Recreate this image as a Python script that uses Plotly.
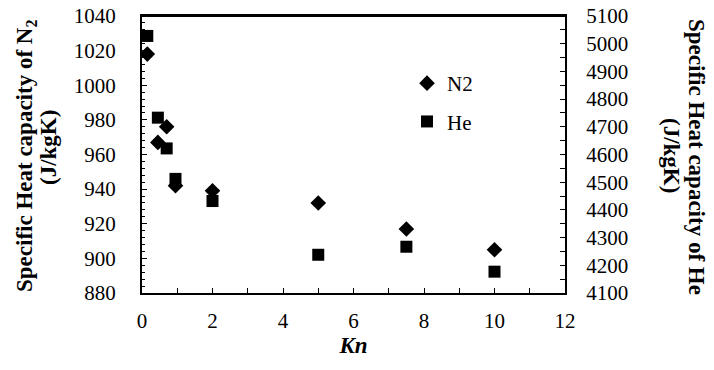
import plotly.graph_objects as go

kn_n2 = [0.15, 0.45, 0.7, 0.95, 2, 5, 7.5, 10]
cp_n2 = [1018, 967, 976, 942, 939, 932, 917, 905]
kn_he = [0.15, 0.45, 0.7, 0.95, 2, 5, 7.5, 10]
cp_he = [5028, 4733, 4622, 4512, 4432, 4238, 4267, 4177]

FONT = "Liberation Serif"
W, H = 714, 370
L, R, T, B = 142, 565, 16, 293   # plot area in reference pixels
PW, PH = R - L, B - T

def px(x):
    return (x - L) / PW

def py(y):
    return (B - y) / PH

fig = go.Figure()
fig.add_trace(go.Scatter(x=kn_n2, y=cp_n2, mode="markers", name="N2",
                         legendgroup="a",
                         marker=dict(symbol="diamond", size=12, color="black")))
fig.add_trace(go.Scatter(x=kn_he, y=cp_he, mode="markers", name="He",
                         legendgroup="b", yaxis="y2",
                         marker=dict(symbol="square", size=12, color="black")))

fig.update_layout(
    width=W, height=H,
    margin=dict(l=L, r=W - R, t=T, b=H - B, pad=0),
    paper_bgcolor="white", plot_bgcolor="white",
    font=dict(family=FONT, color="black", size=21),
    showlegend=True,
    legend=dict(x=px(407), y=py(63), xanchor="left", yanchor="top",
                bgcolor="rgba(0,0,0,0)", font=dict(size=21),
                itemwidth=30, tracegroupgap=8, traceorder="grouped"),
    xaxis=dict(range=[0, 12], dtick=2, tick0=0, showgrid=False, zeroline=False,
               automargin=False,
               showline=True, linecolor="black", linewidth=2, mirror=True,
               ticks="inside", ticklen=5, tickwidth=1, tickcolor="black",
               minor=dict(dtick=1, ticks="inside", ticklen=5, tickcolor="black"),
               ticklabelstandoff=8,
               title=dict(text="<b><i>Kn</i></b>", font=dict(size=23), standoff=1)),
    yaxis=dict(range=[880, 1040], dtick=20, showgrid=False, zeroline=False,
               automargin=False,
               showline=True, linecolor="black", linewidth=2,
               ticks="inside", ticklen=5, tickcolor="black",
               minor=dict(dtick=4, ticks="inside", ticklen=3, tickcolor="black"),
               ticklabelstandoff=20),
    yaxis2=dict(range=[4100, 5100], dtick=100, overlaying="y", side="right",
                showgrid=False, zeroline=False, automargin=False,
                showline=True, linecolor="black", linewidth=2,
                ticks="inside", ticklen=5, tickcolor="black",
                minor=dict(dtick=50, ticks="inside", ticklen=5, tickcolor="black"),
                ticklabelstandoff=15),
)

# top frame line of the plot area
fig.add_shape(type="line", xref="paper", yref="paper", x0=0, x1=1, y0=1, y1=1,
              line=dict(color="black", width=2))

fig.add_annotation(text="<b>Specific Heat capacity of N<sub>2</sub></b>",
                   xref="paper", yref="paper", x=px(26), y=py(156),
                   xanchor="center", yanchor="middle", textangle=-90,
                   showarrow=False, font=dict(size=23))
fig.add_annotation(text="<b>(J/kgK)</b>",
                   xref="paper", yref="paper", x=px(48), y=py(148),
                   xanchor="center", yanchor="middle", textangle=-90,
                   showarrow=False, font=dict(size=23))
fig.add_annotation(text="<b>Specific Heat capacity of He</b>",
                   xref="paper", yref="paper", x=px(697), y=py(157),
                   xanchor="center", yanchor="middle", textangle=90,
                   showarrow=False, font=dict(size=23))
fig.add_annotation(text="<b>(J/kgK)</b>",
                   xref="paper", yref="paper", x=px(672), y=py(155),
                   xanchor="center", yanchor="middle", textangle=90,
                   showarrow=False, font=dict(size=23))

fig.write_html(
    "out.html",
    config={"displayModeBar": False},
    post_script="document.body.style.margin='0';document.body.style.padding='0';",
)
